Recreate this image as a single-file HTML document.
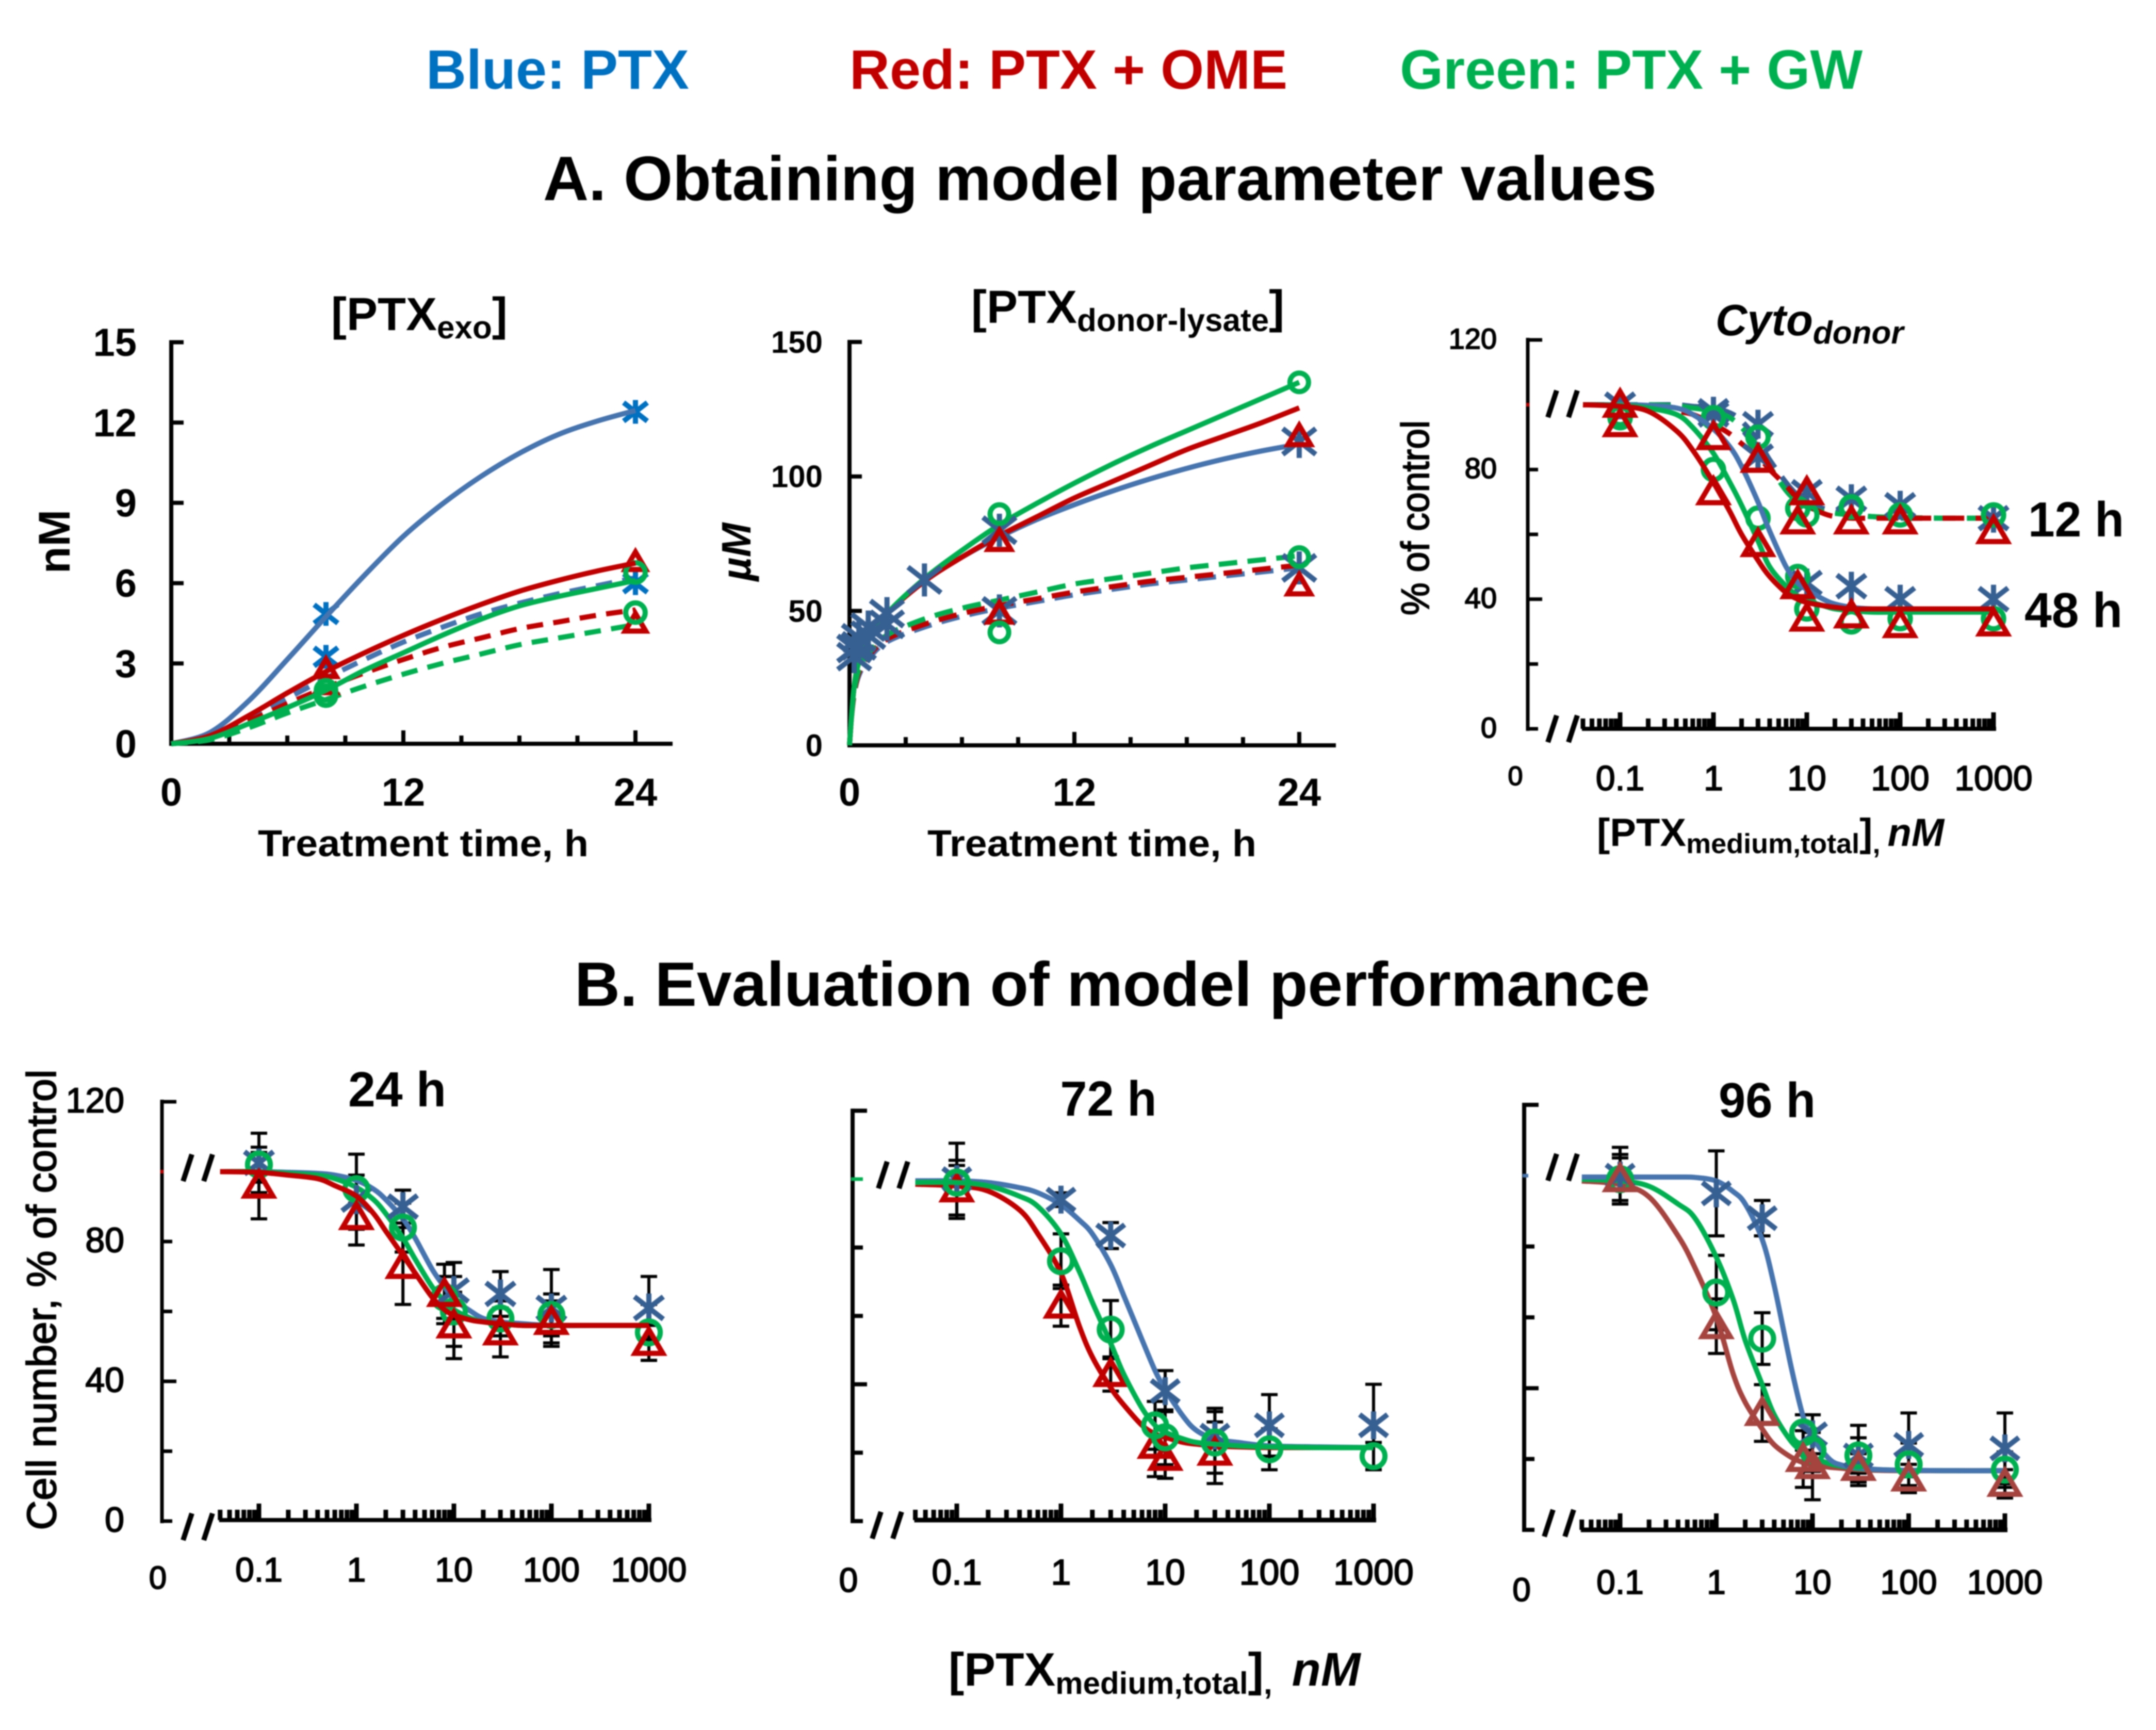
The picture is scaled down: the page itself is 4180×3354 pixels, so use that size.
<!DOCTYPE html>
<html lang="en">
<head>
<meta charset="utf-8">
<title>PTX model panels</title>
<style>
html,body{margin:0;padding:0;background:#fff;width:4180px;height:3354px;overflow:hidden}
svg{display:block;filter:blur(1.4px)}
text{font-family:"Liberation Sans",sans-serif;fill:#000}
.b{font-weight:bold}
.i{font-style:italic}
.soft{stroke:#000;stroke-width:2px}
</style>
</head>
<body>
<svg id="figure" width="4180" height="3354" viewBox="0 0 4180 3354" xmlns="http://www.w3.org/2000/svg">
<rect width="4180" height="3354" fill="#fff"/>

<text class="b" x="826" y="172" font-size="108" style="fill:#0070C0">Blue: PTX</text>
<text class="b" x="1647" y="172" font-size="108" style="fill:#C00000">Red: PTX + OME</text>
<text class="b" x="2714" y="172" font-size="108" style="fill:#00B050">Green: PTX + GW</text>

<text class="b" x="1053" y="388" font-size="122" textLength="2159" lengthAdjust="spacingAndGlyphs">A. Obtaining model parameter values</text>
<text class="b" x="1114" y="1950" font-size="122" textLength="2085" lengthAdjust="spacingAndGlyphs">B. Evaluation of model performance</text>

<text class="b" x="642" y="640" font-size="90">[PTX<tspan font-size="62" dy="16">exo</tspan><tspan dy="-16">]</tspan></text>
<text class="b" x="1883" y="626" font-size="90">[PTX<tspan font-size="62" dy="16">donor-lysate</tspan><tspan dy="-16">]</tspan></text>
<text class="b i" x="3326" y="650" font-size="85">Cyto<tspan font-size="62" dy="16">donor</tspan></text>

<text class="b" font-size="86" text-anchor="middle" transform="translate(135,1050) rotate(-90)">nM</text>
<text class="b i" font-size="80" text-anchor="middle" transform="translate(1455,1070) rotate(-90)">µM</text>
<text class="soft" font-size="76" text-anchor="middle" textLength="378" lengthAdjust="spacingAndGlyphs" transform="translate(2770,1004) rotate(-90)">% of control</text>
<text class="soft" font-size="80" text-anchor="middle" textLength="893" lengthAdjust="spacingAndGlyphs" transform="translate(108,2520) rotate(-90)">Cell number, % of control</text>

<text class="b" x="500" y="1660" font-size="72" textLength="641" lengthAdjust="spacingAndGlyphs">Treatment time, h</text>
<text class="b" x="1798" y="1660" font-size="72" textLength="638" lengthAdjust="spacingAndGlyphs">Treatment time, h</text>
<text class="b" x="3096" y="1640" font-size="76">[PTX<tspan font-size="54" dy="14">medium,total</tspan><tspan dy="-14">]</tspan><tspan font-size="54" dy="14">,</tspan><tspan class="i" dx="14" dy="-14" font-size="76">nM</tspan></text>
<text class="b" x="1839" y="3268" font-size="91">[PTX<tspan font-size="60" dy="16">medium,total</tspan><tspan dy="-16">]</tspan><tspan font-size="60" dy="16">,</tspan><tspan class="i" dx="38" dy="-16" font-size="92">nM</tspan></text>

<text class="b" x="3932" y="1040" font-size="96" textLength="186" lengthAdjust="spacingAndGlyphs">12 h</text>
<text class="b" x="3925" y="1216" font-size="96" textLength="190" lengthAdjust="spacingAndGlyphs">48 h</text>
<text class="b" x="770" y="2145" font-size="96" text-anchor="middle" textLength="190" lengthAdjust="spacingAndGlyphs">24 h</text>
<text class="b" x="2149" y="2163" font-size="96" text-anchor="middle" textLength="187" lengthAdjust="spacingAndGlyphs">72 h</text>
<text class="b" x="3426" y="2166" font-size="96" text-anchor="middle" textLength="188" lengthAdjust="spacingAndGlyphs">96 h</text>

<g id="panel-a1"></g>
<g id="panel-a2"></g>
<g id="panel-a3"></g>
<g id="panel-b1"></g>
<g id="panel-b2"></g>
<g id="panel-b3"></g>
</svg>

<script>
/* ---------- shared categories ---------- */
const doseGrid = [0.04,0.1,0.2,0.4,0.6,1,1.5,2,3,4,6,8,10,15,20,30,50,100,300,1000];
const doseMarkers = [0.1,1,3,8,10,30,100,1000];
const doseTickLabels = ["0.1","1","10","100","1000"];
const doseTickValues = [0.1,1,10,100,1000];

/* ---------- panel A1: PTX exo ---------- */
const a1Times = [0,2,4,6,8,10,12,14,16,18,20,22,24];
const a1BlueSolid = [0,0.42,1.6,3.15,4.75,6.3,7.75,8.95,9.98,10.85,11.55,12.05,12.45];
const a1RedSolid = [0,0.3,1.05,1.9,2.7,3.4,4.05,4.65,5.2,5.7,6.1,6.45,6.75];
const a1GreenSolid = [0,0.2,0.75,1.35,2,2.75,3.4,4.05,4.65,5.15,5.5,5.8,6.1];
const a1BlueDash = [0,0.25,0.95,1.7,2.45,3.15,3.8,4.35,4.85,5.25,5.6,5.9,6.2];
const a1RedDash = [0,0.25,0.85,1.5,2.1,2.65,3.15,3.6,3.95,4.3,4.55,4.8,5];
const a1GreenDash = [0,0.15,0.6,1.15,1.65,2.15,2.6,3,3.35,3.7,3.95,4.2,4.45];
const a1MarkerTimes = [8,24];
const a1PtsBlueSolid = [4.85,12.4];
const a1PtsBlueDash = [3.25,6];
const a1PtsRedSolid = [2.8,6.8];
const a1PtsRedDash = [2.2,4.5];
const a1PtsGreenSolid = [2,6.4];
const a1PtsGreenDash = [1.8,4.9];
const a1YTicks = [0,3,6,9,12,15];
const a1XLabels = [0,12,24];

/* ---------- panel A2: PTX donor lysate ---------- */
const a2Times = [0,0.1,0.25,0.5,1,2,4,6,8,10,12,14,16,18,20,22,24];
const a2GreenSolid = [0,10,22,31,39,49,62,72.5,82,90,97.5,104.5,111,117,123,129,135];
const a2RedSolid = [0,10,22,31,39,49,61,70,78,85,92,98,104,110,115,120,125.5];
const a2BlueSolid = [0,10,22,31,39,49,61,70,77.5,84,89.5,94.5,99,103,106.5,109.5,112];
const a2GreenDash = [0,10,20,28,34,41,47,51,54,57,60,62,64,66,67.5,69,70.5];
const a2RedDash = [0,10,19,27,33,39.5,45,49,52,54.5,57,59,61,62.5,64,65.5,67];
const a2BlueDash = [0,10,19,26,32,38.5,44,48,51,53.5,56,58,60,61.5,63,64.5,66];
const a2BlueTimes = [0.25,0.5,1,2,4,8,24];
const a2PtsBlueSolid = [36,40,44,49,61.5,80,113];
const a2PtsBlueDash = [33,37,41,45,null,50,66];
const a2MarkerTimes = [8,24];
const a2PtsRedSolid = [76,115];
const a2PtsRedDash = [49,59.5];
const a2PtsGreenSolid = [86,135];
const a2PtsGreenDash = [42,70];
const a2YTicks = [0,50,100,150];
const a2XLabels = [0,12,24];

/* ---------- panel A3: Cyto donor ---------- */
const a3Blue48Curve = [100,100,99.8,99,97,92.5,87,81,70,61,50,45,43,40,38.5,37.5,37,36.8,36.5,36.5];
const a3Green48Curve = [100,99.8,99,97,93,85,76,69,58,50,44,41,39.5,38,37,36.5,36,36,36,36];
const a3Red48Curve = [100,99.5,98,92,86,76,67,60,52,47,42,40,39,38,37.5,37,37,37,37,37];
const a3Blue12Curve = [100,100,100,100,99.5,99,97.5,95,89,83,76,72,70,68,67,66,65.5,65,65,65];
const a3Green12Curve = [100,100,100,99.6,99,98,96,93,87,81,73.5,70,68.5,67,66.5,66,65.5,65.2,65,65];
const a3Red12Curve = [100,100,99.5,98,97,94,91,88,84,80,75,71,69,66.5,65.5,65,65,65,65,65];
const a3Blue12Pts = [100,98,94,null,73,71,69,65];
const a3Green12Pts = [96,96,90,68,66,68.5,66,66];
const a3Red12Pts = [94,90,83,64,73,64,64,61];
const a3Blue48Pts = [100,97,84,null,45,44,40,40];
const a3Green48Pts = [97,80,65,47,37,33,34,34];
const a3Red48Pts = [100,73,57,44,34,35,32,32.5];
const a3YLabels = [0,40,80,120];
const a3YTicks = [0,20,40,60,80,120];

/* ---------- panel B1: 24 h ---------- */
const b1BlueCurve = [100,100,99.8,99.5,99,97.5,95,92,86.5,81,72,67,63.5,60,58,57,56.5,56,56,56];
const b1GreenCurve = [100,100,99.5,99,98,95.5,92,88,81,75,67,63,60.5,58,57,56.5,56,56,56,56];
const b1RedCurve = [100,99.8,99,98,96,93,88,83,76,71,64,60.5,59,57.5,57,56.5,56,56,56,56];
const b1BluePts = [102.5,92,90,null,66,65,61,61];
const b1GreenPts = [102,95,84,64,60,58,59,54];
const b1RedPts = [96,87,73,65,56,54,57,51];
const b1BlueErr = [8.5,13,4.7,null,8,6.4,11,9];
const b1GreenErr = [5,4,7,6,10,5,6,8];
const b1RedErr = [9.5,3.5,11,8.5,9.5,7,6,5];
const b1YLabels = [0,40,80,120];
const b1YTicks = [0,20,40,60,80,120];

/* ---------- panel B2: 72 h ---------- */
const b2BlueCurve = [99.5,99.5,99,97.5,96,92.5,88,84,75,66,53,44,38.5,30.5,26.5,24,23,22,21.7,21.5];
const b2GreenCurve = [99,99,98,95,92,84,73,64,52,43,33,28,26,24,23,22.5,22,21.7,21.5,21.5];
const b2RedCurve = [98.5,98,96.5,91,84,72.5,57,48,39,34,28,25.5,24.5,23,22.5,22,21.7,21.5,21.5,21.5];
const b2BluePts = [100,94,83.5,null,38,25,28,28];
const b2GreenPts = [99,76,56,28,24.5,23,21,19];
const b2RedPts = [97,63,43,22,18.5,20,null,null];
const b2BlueErr = [10.5,2,3.8,null,6,8,9,12];
const b2GreenErr = [5,8,8.5,7,8,9,6,4];
const b2RedErr = [8.5,6,5,9,6,9,null,null];
const b2YTicks = [0,20,40,60,80,120];

/* ---------- panel B3: 96 h ---------- */
const b3BlueCurve = [99.6,99.6,99.6,99.6,99.5,98.5,95.5,92,82,69,46,32,26,20,18.3,17.5,17,16.8,16.7,16.7];
const b3GreenCurve = [99,98.5,97,92,88,77,65,53.5,41,32.5,25,22,20.5,18.7,18,17.3,17,16.8,16.7,16.7];
const b3BrownCurve = [98.5,97.5,94,83,74,60,44,36,28.5,24,20.5,19,18.3,17.7,17.4,17,16.8,16.7,16.7,16.7];
const b3BluePts = [100,95,88,null,27,21,24,23];
const b3GreenPts = [99,67,54,27.5,22.5,21,18.5,17];
const b3BrownPts = [99,57.5,33,20,18,17.5,14.5,13];
const b3BlueErr = [8,12,5,null,5.5,8.5,9,10];
const b3GreenErr = [6,10.5,7.3,5,6,5,6,5];
const b3BrownErr = [7,7.7,8,8,9.5,4,4,4];
const b3YTicks = [0,20,40,60,80,120];

/* ---------- palette ---------- */
const C = {lineBlue:"#4674AE",markBlue:"#376092",brightBlue:"#0070C0",red:"#C00000",green:"#00B050",brown:"#A5433F"};
const NS = "http://www.w3.org/2000/svg";
const LW = 10;
const MW = 10;

function mk(parent, tag, attrs){
  const el = document.createElementNS(NS, tag);
  for (const k in attrs) el.setAttribute(k, attrs[k]);
  parent.appendChild(el);
  return el;
}
function line(parent, x1, y1, x2, y2, w, color){
  return mk(parent, "line", {x1:x1, y1:y1, x2:x2, y2:y2, stroke:color||"#000", "stroke-width":w});
}
function smoothPath(pts){
  let d = "M" + pts[0][0].toFixed(1) + " " + pts[0][1].toFixed(1);
  for (let i = 0; i < pts.length - 1; i++){
    const p0 = pts[Math.max(i-1,0)], p1 = pts[i], p2 = pts[i+1], p3 = pts[Math.min(i+2,pts.length-1)];
    const c1x = p1[0] + (p2[0]-p0[0])/6, c1y = p1[1] + (p2[1]-p0[1])/6;
    const c2x = p2[0] - (p3[0]-p1[0])/6, c2y = p2[1] - (p3[1]-p1[1])/6;
    d += "C" + c1x.toFixed(1) + " " + c1y.toFixed(1) + " " + c2x.toFixed(1) + " " + c2y.toFixed(1) + " " + p2[0].toFixed(1) + " " + p2[1].toFixed(1);
  }
  return d;
}
function curve(parent, xs, ys, xf, yf, color, width, dash){
  const pts = xs.map((x, i) => [xf(x), yf(ys[i])]);
  const attrs = {d:smoothPath(pts), fill:"none", stroke:color, "stroke-width":width, "stroke-linecap":"butt", "stroke-linejoin":"round"};
  if (dash) attrs["stroke-dasharray"] = dash;
  return mk(parent, "path", attrs);
}
function marker(parent, kind, x, y, s, color, w){
  const g = mk(parent, "g", {});
  if (kind === "star"){
    line(g, x-s, y-s*0.78, x+s, y+s*0.78, w, color);
    line(g, x-s, y+s*0.78, x+s, y-s*0.78, w, color);
    line(g, x, y-s, x, y+s, w, color);
  } else if (kind === "tri"){
    mk(g, "path", {d:"M"+x+" "+(y-s*0.95)+"L"+(x+s)+" "+(y+s*0.75)+"L"+(x-s)+" "+(y+s*0.75)+"Z", fill:"none", stroke:color, "stroke-width":w, "stroke-linejoin":"miter"});
  } else {
    mk(g, "circle", {cx:x, cy:y, r:s*0.82, fill:"none", stroke:color, "stroke-width":w});
  }
  return g;
}
function label(parent, str, x, y, size, anchor, cls){
  const el = mk(parent, "text", {x:x, y:y, "font-size":size, "text-anchor":anchor, class:cls});
  el.textContent = String(str);
  return el;
}
function breakMark(parent, x, cy){
  const g = mk(parent, "g", {});
  line(g, x, cy+26, x+17, cy-26, 10);
  line(g, x+40, cy+26, x+57, cy-26, 10);
  return g;
}

/* ---------- time-course panels ---------- */
function timeAxes(g, c, yTicks, xLabels){
  const xf = t => c.x0 + t*c.xk, yf = v => c.y0 - v*c.yk;
  const yAxis = line(g, c.x0, yf(yTicks[yTicks.length-1])-4, c.x0, c.y0+4, 8);
  
  
  const xAxis = line(g, c.x0-4, c.y0, c.xEnd, c.y0, 8);
  
  
  yTicks.forEach(v => {
    const tick = line(g, c.x0, yf(v), c.x0+24, yf(v), 8);
    
    
    const t = label(g, v, c.yLabelX, yf(v)+c.yLabelSize*0.35, c.yLabelSize, "end", "b");
    
    
  });
  for (let h = 3; h <= 24; h += 3){
    const tick = line(g, xf(h), c.y0, xf(h), c.y0-(h%12===0?26:16), 8);
    
    
  }
  xLabels.forEach(v => {
    const t = label(g, v, xf(v), 1562, 76, "middle", "b");
    
    
  });
  return {xf:xf, yf:yf};
}
function timeSeries(g, s, xf, yf, name){
  const path = curve(g, s.times, s.values, xf, yf, s.color, LW, s.dash);
  
  
}
function timeMarks(g, s, xf, yf, name){
  s.times.forEach((t, i) => {
    if (s.values[i] === null) return;
    const m = marker(g, s.kind, xf(t), yf(s.values[i]), s.size, s.color, MW);
    
    
  });
}

/* A1 */
(function(){
  const g = document.getElementById("panel-a1");
  const c = {x0:332, xk:37.5, y0:1442, yk:51.9, xEnd:1304, yLabelX:265, yLabelSize:76};
  const ax = timeAxes(g, c, a1YTicks, a1XLabels);
  timeSeries(g, {times:a1Times, values:a1BlueDash, color:C.lineBlue, dash:"32 20"}, ax.xf, ax.yf, 'blue-dashed');
  timeSeries(g, {times:a1Times, values:a1RedDash, color:C.red, dash:"32 20"}, ax.xf, ax.yf, 'red-dashed');
  timeSeries(g, {times:a1Times, values:a1GreenDash, color:C.green, dash:"32 20"}, ax.xf, ax.yf, 'green-dashed');
  timeMarks(g, {times:a1MarkerTimes, values:a1PtsBlueSolid, kind:"star", size:23, color:C.brightBlue}, ax.xf, ax.yf, 'blue-solid');
  timeMarks(g, {times:a1MarkerTimes, values:a1PtsBlueDash, kind:"star", size:23, color:C.brightBlue}, ax.xf, ax.yf, 'blue-dashed');
  timeMarks(g, {times:a1MarkerTimes, values:a1PtsRedSolid, kind:"tri", size:20, color:C.red}, ax.xf, ax.yf, 'red-solid');
  timeMarks(g, {times:a1MarkerTimes, values:a1PtsRedDash, kind:"tri", size:20, color:C.red}, ax.xf, ax.yf, 'red-dashed');
  timeMarks(g, {times:a1MarkerTimes, values:a1PtsGreenSolid, kind:"circle", size:23, color:C.green}, ax.xf, ax.yf, 'green-solid');
  timeMarks(g, {times:a1MarkerTimes, values:a1PtsGreenDash, kind:"circle", size:23, color:C.green}, ax.xf, ax.yf, 'green-dashed');
  timeSeries(g, {times:a1Times, values:a1BlueSolid, color:C.lineBlue}, ax.xf, ax.yf, 'blue-solid');
  timeSeries(g, {times:a1Times, values:a1RedSolid, color:C.red}, ax.xf, ax.yf, 'red-solid');
  timeSeries(g, {times:a1Times, values:a1GreenSolid, color:C.green}, ax.xf, ax.yf, 'green-solid');
})();

/* A2 */
(function(){
  const g = document.getElementById("panel-a2");
  const c = {x0:1647, xk:36.33, y0:1445, yk:5.213, xEnd:2590, yLabelX:1595, yLabelSize:60};
  const ax = timeAxes(g, c, a2YTicks, a2XLabels);
  timeSeries(g, {times:a2Times, values:a2BlueDash, color:C.lineBlue, dash:"36 20"}, ax.xf, ax.yf, 'blue-dashed');
  timeSeries(g, {times:a2Times, values:a2RedDash, color:C.red, dash:"36 20"}, ax.xf, ax.yf, 'red-dashed');
  timeSeries(g, {times:a2Times, values:a2GreenDash, color:C.green, dash:"36 20"}, ax.xf, ax.yf, 'green-dashed');
  timeSeries(g, {times:a2Times, values:a2BlueSolid, color:C.lineBlue}, ax.xf, ax.yf, 'blue-solid');
  timeSeries(g, {times:a2Times, values:a2RedSolid, color:C.red}, ax.xf, ax.yf, 'red-solid');
  timeSeries(g, {times:a2Times, values:a2GreenSolid, color:C.green}, ax.xf, ax.yf, 'green-solid');
  timeMarks(g, {times:a2BlueTimes, values:a2PtsBlueDash, kind:"star", size:32, color:C.markBlue}, ax.xf, ax.yf, 'blue-dashed');
  timeMarks(g, {times:a2BlueTimes, values:a2PtsBlueSolid, kind:"star", size:32, color:C.markBlue}, ax.xf, ax.yf, 'blue-solid');
  timeMarks(g, {times:a2MarkerTimes, values:a2PtsRedSolid, kind:"tri", size:22, color:C.red}, ax.xf, ax.yf, 'red-solid');
  timeMarks(g, {times:a2MarkerTimes, values:a2PtsRedDash, kind:"tri", size:22, color:C.red}, ax.xf, ax.yf, 'red-dashed');
  timeMarks(g, {times:a2MarkerTimes, values:a2PtsGreenSolid, kind:"circle", size:22, color:C.green}, ax.xf, ax.yf, 'green-solid');
  timeMarks(g, {times:a2MarkerTimes, values:a2PtsGreenDash, kind:"circle", size:22, color:C.green}, ax.xf, ax.yf, 'green-dashed');
})();

/* ---------- dose-response panels ---------- */
function doseAxes(g, c, yTicks, yLabels){
  const xf = v => c.xTenth + (Math.log10(v)+1)*c.decade, yf = v => c.y0 - v*c.yk;
  const yAxis = line(g, c.xAxis, yf(120)-4, c.xAxis, c.y0+4, c.axisW);
  
  
  const xAxis = line(g, xf(0.04)-2, c.yLog, xf(1000)+5, c.yLog, c.axisW+1);
  
  
  yTicks.forEach(v => {
    const tick = line(g, c.xAxis, yf(v), c.xAxis+(v===120||v===40?28:20), yf(v), c.axisW);
    
    
  });
  const dot = line(g, c.xAxis-3, yf(100), c.xAxis+c.dotLen, yf(100), 7, c.dotColor);
  
  
  for (let d = -2; d <= 2; d++){
    for (let k = 1; k <= 9; k++){
      const v = k*Math.pow(10, d);
      if (v < 0.04 || v > 1000) continue;
      const tick = line(g, xf(v), c.yLog, xf(v), c.yLog-(k===1?32:20), 9);
      
      
    }
  }
  const last = line(g, xf(1000), c.yLog, xf(1000), c.yLog-32, 9);
  
  
  const b1 = breakMark(g, c.breakTop[0], c.breakTop[1]);
  
  
  const b2 = breakMark(g, c.breakBot[0], c.breakBot[1]);
  
  
  doseTickValues.forEach((v, i) => {
    const t = label(g, doseTickLabels[i], xf(v), c.xLabelY, c.xLabelSize, "middle", "soft");
    
    
  });
  const zero = label(g, "0", c.zeroX, c.zeroY, c.zeroSize, "middle", "soft");
  
  
  if (yLabels) yLabels.forEach(v => {
    const t = label(g, v, c.yLabelX, yf(v)+c.yLabelSize*0.3, c.yLabelSize, "end", "soft");
    
    
  });
  return {xf:xf, yf:yf};
}
function doseErrors(g, pts, err, xf, yf){
  pts.forEach((v, i) => {
    if (v === null || err[i] === null) return;
    const x = xf(doseMarkers[i]);
    const e = mk(g, "g", {});
    
    
    line(e, x, yf(v+err[i]), x, yf(v-err[i]), 6);
    line(e, x-16, yf(v+err[i]), x+16, yf(v+err[i]), 6);
    line(e, x-16, yf(v-err[i]), x+16, yf(v-err[i]), 6);
  });
}
function doseCurve(g, vals, xf, yf, color, dash, name){
  const p = curve(g, doseGrid, vals, xf, yf, color, LW, dash);
  
  
}
function doseMarks(g, pts, kind, size, color, xf, yf, name){
  pts.forEach((v, i) => {
    if (v === null) return;
    const m = marker(g, kind, xf(doseMarkers[i]), yf(v), size, color, MW);
    
    
  });
}

/* A3 */
(function(){
  const g = document.getElementById("panel-a3");
  const c = {xAxis:2962, axisW:7, xTenth:3141, decade:181, y0:1413, yk:6.283, yLog:1413,
    dotColor:C.red, dotLen:3, breakTop:[3001,783], breakBot:[3001,1413],
    xLabelY:1532, xLabelSize:68, zeroX:2938, zeroY:1522, zeroSize:52, yLabelX:2902, yLabelSize:56};
  const a = doseAxes(g, c, a3YTicks, a3YLabels);
  doseCurve(g, a3Blue12Curve, a.xf, a.yf, C.markBlue, "42 22", 'blue-12h-curve');
  doseCurve(g, a3Green12Curve, a.xf, a.yf, C.green, "42 22", 'green-12h-curve');
  doseCurve(g, a3Red12Curve, a.xf, a.yf, C.red, "42 22", 'red-12h-curve');
  doseMarks(g, a3Blue12Pts, "star", 28, C.markBlue, a.xf, a.yf, 'blue-12h-point');
  doseMarks(g, a3Blue48Pts, "star", 28, C.markBlue, a.xf, a.yf, 'blue-48h-point');
  doseMarks(g, a3Green12Pts, "circle", 24, C.green, a.xf, a.yf, 'green-12h-point');
  doseMarks(g, a3Green48Pts, "circle", 24, C.green, a.xf, a.yf, 'green-48h-point');
  doseCurve(g, a3Blue48Curve, a.xf, a.yf, C.lineBlue, null, 'blue-48h-curve');
  doseCurve(g, a3Green48Curve, a.xf, a.yf, C.green, null, 'green-48h-curve');
  doseCurve(g, a3Red48Curve, a.xf, a.yf, C.red, null, 'red-48h-curve');
  doseMarks(g, a3Red12Pts, "tri", 27, C.red, a.xf, a.yf, 'red-12h-point');
  doseMarks(g, a3Red48Pts, "tri", 27, C.red, a.xf, a.yf, 'red-48h-point');
})();

/* B1 */
(function(){
  const g = document.getElementById("panel-b1");
  const c = {xAxis:314, axisW:7, xTenth:502, decade:189, y0:2949, yk:6.775, yLog:2947,
    dotColor:C.red, dotLen:3, breakTop:[355,2264], breakBot:[355,2960],
    xLabelY:3066, xLabelSize:66, zeroX:306, zeroY:3080, zeroSize:62, yLabelX:241, yLabelSize:68};
  const a = doseAxes(g, c, b1YTicks, b1YLabels);
  doseErrors(g, b1BluePts, b1BlueErr, a.xf, a.yf);
  doseErrors(g, b1GreenPts, b1GreenErr, a.xf, a.yf);
  doseErrors(g, b1RedPts, b1RedErr, a.xf, a.yf);
  doseCurve(g, b1BlueCurve, a.xf, a.yf, C.lineBlue, null, 'blue-curve');
  doseCurve(g, b1GreenCurve, a.xf, a.yf, C.green, null, 'green-curve');
  doseMarks(g, b1BluePts, "star", 28, C.markBlue, a.xf, a.yf, 'blue-point');
  doseMarks(g, b1GreenPts, "circle", 27, C.green, a.xf, a.yf, 'green-point');
  doseCurve(g, b1RedCurve, a.xf, a.yf, C.red, null, 'red-curve');
  doseMarks(g, b1RedPts, "tri", 27, C.red, a.xf, a.yf, 'red-point');
})();

/* B2 */
(function(){
  const g = document.getElementById("panel-b2");
  const c = {xAxis:1653, axisW:8, xTenth:1855, decade:202, y0:2949, yk:6.63, yLog:2947,
    dotColor:C.green, dotLen:20, breakTop:[1703,2278], breakBot:[1691,2957],
    xLabelY:3072, xLabelSize:70, zeroX:1645, zeroY:3086, zeroSize:66};
  const a = doseAxes(g, c, b2YTicks, null);
  doseErrors(g, b2BluePts, b2BlueErr, a.xf, a.yf);
  doseErrors(g, b2GreenPts, b2GreenErr, a.xf, a.yf);
  doseErrors(g, b2RedPts, b2RedErr, a.xf, a.yf);
  doseCurve(g, b2RedCurve, a.xf, a.yf, C.red, null, 'red-curve');
  doseCurve(g, b2BlueCurve, a.xf, a.yf, C.lineBlue, null, 'blue-curve');
  doseMarks(g, b2BluePts, "star", 27, C.markBlue, a.xf, a.yf, 'blue-point');
  doseMarks(g, b2RedPts, "tri", 27, C.red, a.xf, a.yf, 'red-point');
  doseCurve(g, b2GreenCurve, a.xf, a.yf, C.green, null, 'green-curve');
  doseMarks(g, b2GreenPts, "circle", 27, C.green, a.xf, a.yf, 'green-point');
})();

/* B3 */
(function(){
  const g = document.getElementById("panel-b3");
  const c = {xAxis:2955, axisW:8, xTenth:3141, decade:186.5, y0:2966, yk:6.867, yLog:2966,
    dotColor:C.lineBlue, dotLen:8, breakTop:[3001,2263], breakBot:[2994,2953],
    xLabelY:3090, xLabelSize:66, zeroX:2950, zeroY:3104, zeroSize:64};
  const a = doseAxes(g, c, b3YTicks, null);
  doseErrors(g, b3BluePts, b3BlueErr, a.xf, a.yf);
  doseErrors(g, b3GreenPts, b3GreenErr, a.xf, a.yf);
  doseErrors(g, b3BrownPts, b3BrownErr, a.xf, a.yf);
  doseCurve(g, b3BrownCurve, a.xf, a.yf, C.brown, null, 'brown-curve');
  doseCurve(g, b3GreenCurve, a.xf, a.yf, C.green, null, 'green-curve');
  doseCurve(g, b3BlueCurve, a.xf, a.yf, C.lineBlue, null, 'blue-curve');
  doseMarks(g, b3BluePts, "star", 27, C.markBlue, a.xf, a.yf, 'blue-point');
  doseMarks(g, b3GreenPts, "circle", 27, C.green, a.xf, a.yf, 'green-point');
  doseMarks(g, b3BrownPts, "tri", 27, C.brown, a.xf, a.yf, 'brown-point');
})();
</script>
</body>
</html>
